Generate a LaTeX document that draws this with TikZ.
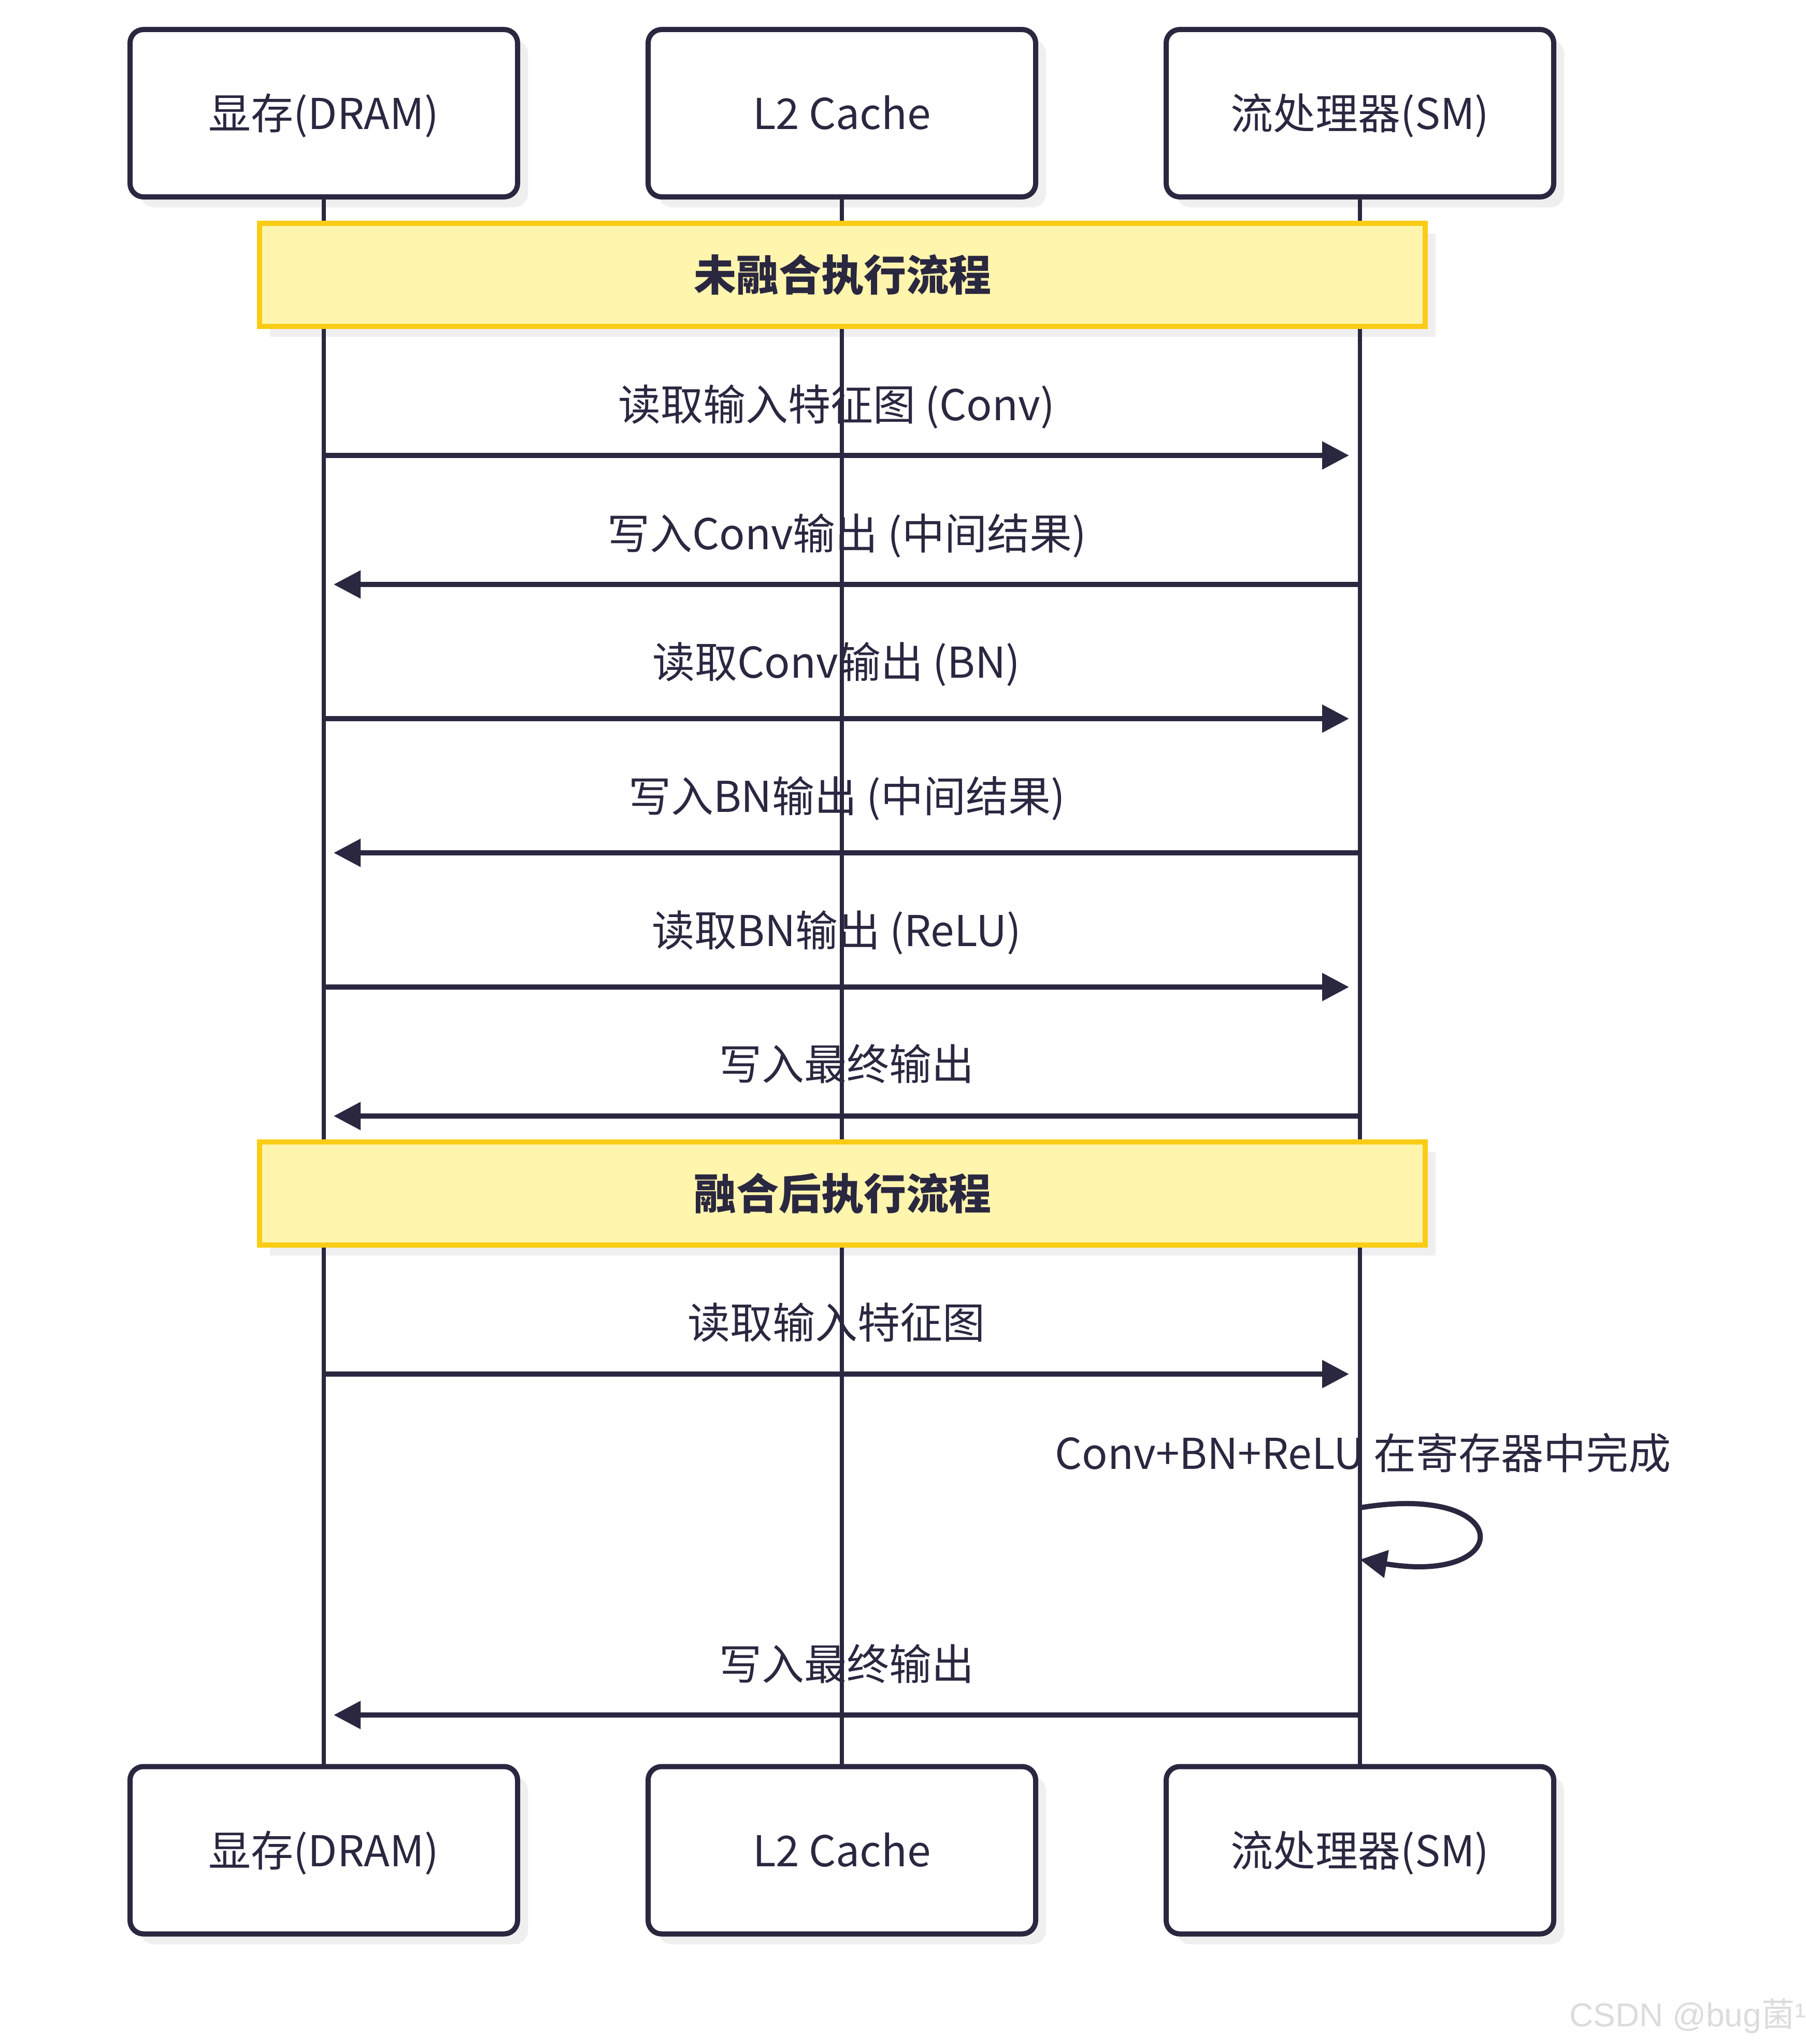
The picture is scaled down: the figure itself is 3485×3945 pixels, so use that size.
\documentclass[tikz,border=0pt]{standalone}
\usepackage{fontspec}
\setmainfont{Noto Sans CJK SC}
\newfontfamily\wmfont{Liberation Sans}
\newfontfamily\wmcjk{Noto Sans CJK SC}
\usetikzlibrary{arrows.meta,shadows}
\definecolor{ink}{HTML}{2A2740}
\definecolor{shadowc}{HTML}{EFEFEF}
\definecolor{notefill}{HTML}{FFF5AD}
\definecolor{notedraw}{HTML}{FACC15}
\definecolor{wmgray}{HTML}{DCDCDC}
\tikzset{
  actor/.style={draw=ink, line width=10pt, fill=white, rounded corners=26pt,
    minimum width=748pt, minimum height=323pt, inner sep=0pt, text=ink,
    text height=72pt, text depth=10pt,
    font=\fontsize{82}{98}\selectfont,
    drop shadow={shadow xshift=20pt, shadow yshift=-20pt, fill=shadowc, opacity=1}},
  notebox/.style={draw=notedraw, line width=10pt, fill=notefill,
    minimum width=2250pt, minimum height=199pt, inner sep=0pt, text=ink,
    font=\fontsize{82}{98}\selectfont\bfseries,
    drop shadow={shadow xshift=20pt, shadow yshift=-20pt, fill=shadowc, opacity=1}},
  lifeline/.style={draw=ink, line width=8pt},
  msg/.style={draw=ink, line width=10pt, -{Triangle[length=52pt,width=52pt]}},
  lbl/.style={text=ink, inner sep=0pt, text height=72pt, text depth=10pt,
    font=\fontsize{82}{98}\selectfont},
}
\begin{document}
\begin{tikzpicture}[x=1pt,y=-1pt]
\useasboundingbox (0,0) rectangle (3485,3945);
\fill[white] (0,0) rectangle (3485,3945);

% actors
\node[actor] (dramT) at (625,218.5) {显存(DRAM)};
\node[actor] (l2T)   at (1625,218.5) {L2 Cache};
\node[actor] (smT)   at (2625,218.5) {流处理器(SM)};
\node[actor] (dramB) at (625,3571) {显存(DRAM)};
\node[actor] (l2B)   at (1625,3571) {L2 Cache};
\node[actor] (smB)   at (2625,3571) {流处理器(SM)};

% notes
\node[notebox] (n1) at (1626,530.5) {未融合执行流程};
\node[notebox] (n2) at (1626,2303.5) {融合后执行流程};

% message end points
\coordinate (m1a) at (625,879);  \coordinate (m1b) at (2604,879);
\coordinate (m2a) at (2625,1128); \coordinate (m2b) at (644,1128);
\coordinate (m3a) at (625,1387); \coordinate (m3b) at (2604,1387);
\coordinate (m4a) at (2625,1646); \coordinate (m4b) at (644,1646);
\coordinate (m5a) at (625,1905); \coordinate (m5b) at (2604,1905);
\coordinate (m6a) at (2625,2154); \coordinate (m6b) at (644,2154);
\coordinate (m7a) at (625,2652); \coordinate (m7b) at (2604,2652);
\coordinate (m8a) at (2625,2910); \coordinate (m8b) at (2625,3010);
\coordinate (m9a) at (2625,3310); \coordinate (m9b) at (644,3310);

\draw[msg] (m1a) -- node[lbl, yshift=99pt]  (t1) {读取输入特征图 (Conv)} (m1b);
\draw[msg] (m2a) -- node[lbl, yshift=99pt]  (t2) {写入Conv输出 (中间结果)} (m2b);
\draw[msg] (m3a) -- node[lbl, yshift=110pt] (t3) {读取Conv输出 (BN)} (m3b);
\draw[msg] (m4a) -- node[lbl, yshift=110pt] (t4) {写入BN输出 (中间结果)} (m4b);
\draw[msg] (m5a) -- node[lbl, yshift=110pt] (t5) {读取BN输出 (ReLU)} (m5b);
\draw[msg] (m6a) -- node[lbl, yshift=101pt] (t6) {写入最终输出} (m6b);
\draw[msg] (m7a) -- node[lbl, yshift=100pt] (t7) {读取输入特征图} (m7b);
\node[lbl] (t8) at (2631,2804) {Conv+BN+ReLU 在寄存器中完成};
\draw[msg] (m8a) .. controls (2926,2860) and (2926,3060) .. (m8b);
\draw[msg] (m9a) -- node[lbl, yshift=99pt]  (t9) {写入最终输出} (m9b);

% lifelines (interrupted by notes)
\foreach \t/\b in {dramT/dramB, l2T/l2B, smT/smB}{
  \draw[lifeline] (\t.south) -- (\t.south |- n1.north);
  \draw[lifeline] (\t.south |- n1.south) -- (\t.south |- n2.north);
  \draw[lifeline] (\t.south |- n2.south) -- (\b.north);
}

% watermark
\node[anchor=base west, inner sep=0pt, text=wmgray, font=\fontsize{64}{76}\selectfont] (wm) at (3029,3911)
  {\wmfont CSDN @bug\wmcjk 菌\wmfont ¹};
\end{tikzpicture}
\end{document}
